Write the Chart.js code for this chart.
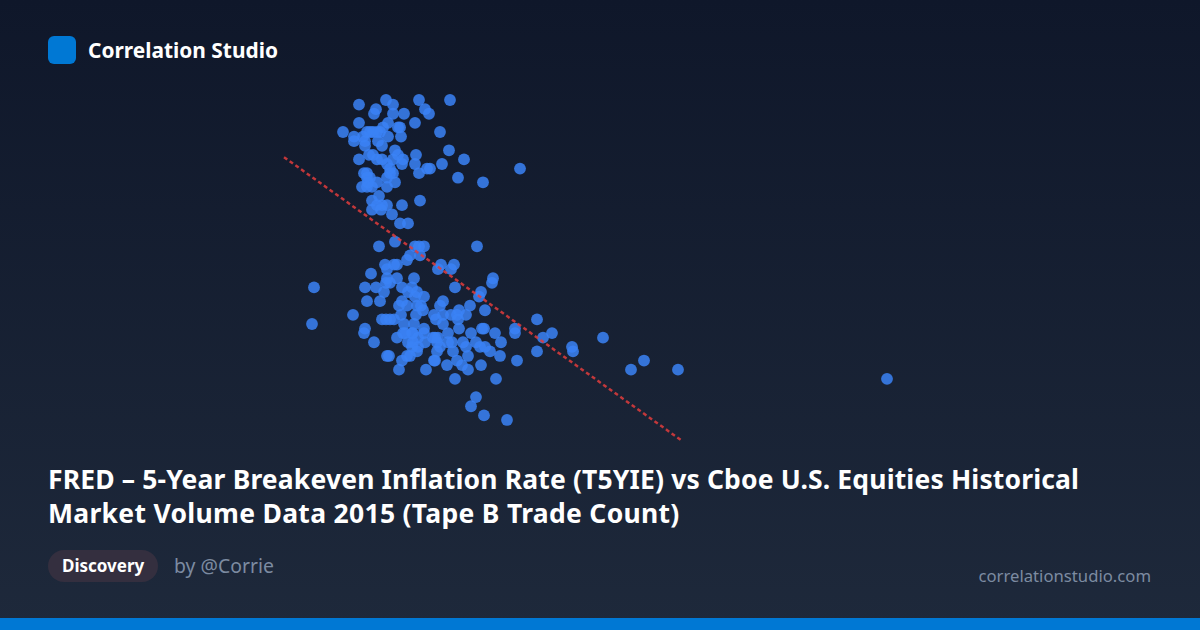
<!DOCTYPE html>
<html lang="en">

<head>
  <meta charset="UTF-8">
  <title>Correlation Studio</title>
  <script src="https://cdn.jsdelivr.net/npm/chart.js"></script>
  <style>
    html, body { margin: 0; padding: 0; }
    body {
      width: 1200px; height: 630px; position: relative; overflow: hidden;
      background: linear-gradient(180deg, #0f172a 0%, #1e293b 100%);
      font-family: "Noto Sans", sans-serif; color: #fff;
    }
    #logo { position: absolute; left: 48px; top: 36px; width: 28px; height: 28px; border-radius: 6px; background: #0078d4; }
    #brand { position: absolute; left: 88px; top: 36px; line-height: 28px; font-size: 20.9px; font-weight: 700; white-space: nowrap; }
    #chart { position: absolute; left: 240px; top: 80px; }
    #title { position: absolute; left: 48px; top: 462px; width: 1120px; font-size: 26.5px; line-height: 34px; font-weight: 700; white-space: nowrap; }
    #tag { position: absolute; left: 48px; top: 550px; height: 32px; line-height: 32px; padding: 0 14px; border-radius: 16px; background: #342f3f; font-size: 17px; font-weight: 700; }
    #author { position: absolute; left: 174px; top: 550px; line-height: 32px; font-size: 19.4px; color: #7c8ba1; }
    #site { position: absolute; right: 49px; top: 560px; line-height: 32px; font-size: 16.7px; color: #7c8ba1; }
    #bar { position: absolute; left: 0; right: 0; bottom: 0; height: 12px; background: #0078d4; }
  </style>
</head>

<body>
  <div id="logo"></div>
  <div id="brand">Correlation Studio</div>
  <canvas id="chart" width="680" height="380"></canvas>
  <div id="title"><span style="letter-spacing:.15px">FRED – 5-Year Breakeven Inflation Rate (T5YIE) vs Cboe U.S. Equities Historical</span><br><span style="letter-spacing:.3px">Market Volume Data 2015 (Tape B Trade Count)</span></div>
  <div id="tag">Discovery</div>
  <div id="author">by @Corrie</div>
  <div id="site">correlationstudio.com</div>
  <div id="bar"></div>

  <script>
    // values, the axes are not shown so the units are estimates
    // Tape B trade count (millions), one line per T5YIE level below
    const tradeCount = [
      1.86, 2.19, 2.50,
      1.59, 1.93,
      1.76, 2.25,
      1.74, 1.93, 2.04, 2.29,
      1.59, 2.15, 1.88,
      1.83, 1.98, 2.00,
      1.43, 2.40, 1.70, 1.73, 1.77, 1.80, 1.67,
      2.01, 1.54, 1.63, 1.88,
      1.54, 1.65, 1.78,
      1.65, 1.82,
      2.49, 1.95,
      1.69, 1.73, 2.16, 1.98,
      1.59, 1.77, 1.82, 2.03, 1.93, 2.64,
      2.15, 2.42, 1.87, 2.02,
      2.27, 2.30, 3.20, 1.90,
      2.19, 1.93, 1.90, 1.64, 1.67,
      2.58, 1.87, 1.70, 1.67,
      2.83, 1.95, 1.77, 1.68,
      1.87, 1.62, 1.67, 1.72,
      1.79,
      1.72, 2.20,
      2.02, 1.77, 1.82, 1.87,
      1.72, 1.81,
      1.92,
      2.00, 2.08,
      1.95,
      1.79, 2.15, 2.19, 2.24, 2.77,
      2.10, 2.20,
      2.07,
      2.41, 2.54, 1.85, 1.94, 1.97,
      2.38, 2.51, 1.87,
      1.71,
      1.87, 1.97, 2.14, 2.93,
      1.90, 1.86, 2.92,
      1.14, 1.65, 1.76, 2.02, 2.12, 2.55,
      1.84, 2.17, 2.81, 2.08,
      2.24, 2.15, 2.79,
      1.67, 1.80, 2.02, 2.43,
      1.99, 2.07, 2.17, 2.21, 2.40, 2.70,
      2.23, 2.85, 2.59,
      1.53, 2.01, 2.16, 2.34, 2.43, 2.51, 2.57, 2.66,
      1.82, 1.86, 1.90, 1.94, 2.36, 2.58, 3.37,
      1.12, 2.04, 2.14, 2.43,
      1.65, 2.24, 2.59, 2.82, 2.84, 3.15,
      1.64, 2.24, 2.13, 2.03, 2.05, 2.12, 2.48, 2.71, 2.95, 3.15, 3.52,
      1.97, 2.18, 2.33, 2.38, 2.35, 3.43, 4.03,
      1.74, 2.08, 2.13, 2.25, 2.37, 2.48, 2.52, 2.63, 2.76, 3.01,
      2.12, 2.18, 2.40, 2.66, 2.80, 2.85, 3.72,
      2.17, 2.37, 2.53, 2.90, 3.37, 3.73,
      1.87, 1.89, 2.07, 2.10, 2.68, 3.00,
      2.02, 2.34, 2.35, 2.57, 3.17, 4.44,
      2.47, 2.62, 2.81,
      1.99, 2.26, 2.68, 4.31, 4.78,
      2.55, 2.96, 6.87,
      2.76,
      2.71,
      2.84,
      3.07
    ];
    // T5YIE (%), same order as tradeCount
    const t5yie = [
      1.87, 1.87, 1.87,
      1.86, 1.86,
      1.85, 1.85,
      1.84, 1.84, 1.84, 1.84,
      1.82, 1.82, 1.82,
      1.81, 1.81, 1.81,
      1.80, 1.80, 1.80, 1.80, 1.80, 1.80, 1.80,
      1.79, 1.79, 1.79, 1.79,
      1.78, 1.78, 1.78,
      1.77, 1.77,
      1.76, 1.76,
      1.75, 1.75, 1.75, 1.75,
      1.74, 1.74, 1.74, 1.74, 1.74, 1.74,
      1.73, 1.73, 1.73, 1.73,
      1.72, 1.72, 1.72, 1.72,
      1.71, 1.71, 1.71, 1.71, 1.71,
      1.70, 1.70, 1.70, 1.70,
      1.69, 1.69, 1.69, 1.69,
      1.68, 1.68, 1.68, 1.68,
      1.66,
      1.65, 1.65,
      1.64, 1.64, 1.64, 1.64,
      1.63, 1.63,
      1.62,
      1.60, 1.60,
      1.56,
      1.55, 1.55, 1.55, 1.55, 1.55,
      1.53, 1.53,
      1.52,
      1.51, 1.51, 1.51, 1.51, 1.51,
      1.50, 1.50, 1.50,
      1.49,
      1.48, 1.48, 1.48, 1.48,
      1.47, 1.47, 1.47,
      1.46, 1.46, 1.46, 1.46, 1.46, 1.46,
      1.45, 1.45, 1.45, 1.45,
      1.44, 1.44, 1.44,
      1.43, 1.43, 1.43, 1.43,
      1.42, 1.42, 1.42, 1.42, 1.42, 1.42,
      1.41, 1.41, 1.41,
      1.40, 1.40, 1.40, 1.40, 1.40, 1.40, 1.40, 1.40,
      1.39, 1.39, 1.39, 1.39, 1.39, 1.39, 1.39,
      1.38, 1.38, 1.38, 1.38,
      1.37, 1.37, 1.37, 1.37, 1.37, 1.37,
      1.36, 1.36, 1.36, 1.36, 1.36, 1.36, 1.36, 1.36, 1.36, 1.36, 1.36,
      1.35, 1.35, 1.35, 1.35, 1.35, 1.35, 1.35,
      1.34, 1.34, 1.34, 1.34, 1.34, 1.34, 1.34, 1.34, 1.34, 1.34,
      1.33, 1.33, 1.33, 1.33, 1.33, 1.33, 1.33,
      1.32, 1.32, 1.32, 1.32, 1.32, 1.32,
      1.31, 1.31, 1.31, 1.31, 1.31, 1.31,
      1.30, 1.30, 1.30, 1.30, 1.30, 1.30,
      1.29, 1.29, 1.29,
      1.28, 1.28, 1.28, 1.28, 1.28,
      1.26, 1.26, 1.26,
      1.22,
      1.20,
      1.18,
      1.17
    ];
    // ends of the dashed fit line
    const trendX = [0.84, 4.81];
    const trendY = [1.745, 1.126];

    new Chart(document.getElementById('chart'), {
      type: 'scatter',
      data: {
        datasets: [{
          data: tradeCount.map((x, i) => ({ x: x, y: t5yie[i] })),
          backgroundColor: 'rgba(59, 130, 246, 0.85)',
          borderWidth: 0,
          pointRadius: 5.9,
          order: 2
        }, {
          type: 'line',
          data: trendX.map((x, i) => ({ x: x, y: trendY[i] })),
          borderColor: 'rgba(225, 60, 60, 0.85)',
          borderWidth: 2.5,
          borderDash: [4, 3],
          pointRadius: 0,
          order: 1
        }]
      },
      options: {
        responsive: false,
        animation: false,
        devicePixelRatio: 1,
        layout: { autoPadding: false },
        plugins: { legend: { display: false }, tooltip: { enabled: false } },
        scales: {
          x: { type: 'linear', display: false, min: 0.4, max: 7.2 },
          y: { type: 'linear', display: false, min: 1.0824, max: 1.9138 }
        }
      }
    });
  </script>
</body>

</html>
